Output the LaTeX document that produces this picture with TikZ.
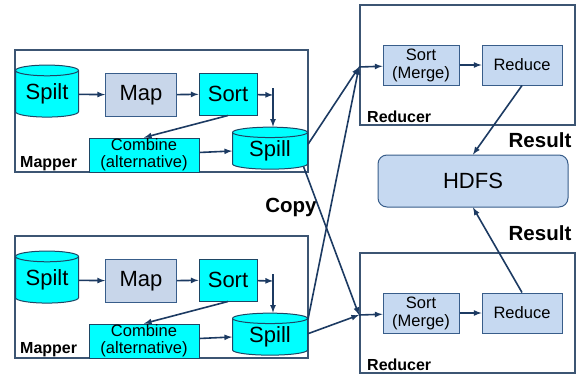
\documentclass[tikz,border=0pt]{standalone}
\usepackage{fontspec}
\setmainfont{Liberation Sans}
\usetikzlibrary{shapes.geometric}
\definecolor{cyanfill}{RGB}{0,255,255}
\definecolor{cyanline}{RGB}{30,70,100}
\definecolor{mapfill}{RGB}{200,214,234}
\definecolor{redfill}{RGB}{198,217,241}
\definecolor{boxline}{RGB}{56,93,138}
\definecolor{framecol}{RGB}{60,85,115}
\definecolor{linkcol}{RGB}{28,58,98}
\tikzset{
  cyl/.style={cylinder,shape border rotate=90,aspect=.25,draw=cyanline,fill=cyanfill,line width=1pt,inner sep=0pt,font=\fontsize{22}{24}\selectfont},
  cyanbox/.style={draw=cyanline,fill=cyanfill,line width=1pt,inner sep=0pt,align=center},
  bluebox/.style={draw=boxline,line width=1pt,inner sep=0pt,align=center},
  frame/.style={draw=framecol,line width=1.1pt},
  link/.style={->,draw=linkcol,line width=1.6pt},
  lbl/.style={font=\fontsize{16}{18}\selectfont\bfseries,anchor=west,inner sep=0pt},
  res/.style={font=\fontsize{20.5}{22}\selectfont\bfseries,inner sep=0pt}
}
\begin{document}
\begin{tikzpicture}[>=latex,x=1pt,y=-1pt]
    \useasboundingbox (0,0) rectangle (576,375);
    % mappers
    \foreach \n/\s in {A/0,B/186}{
        \draw[frame](15,50+\s) rectangle (308,172+\s);
        \node[cyl,minimum width=63pt,minimum height=52pt](spilt\n) at (47,94+\s){Spilt};
        \node[bluebox,fill=mapfill,minimum width=71pt,minimum height=43pt,font=\fontsize{22}{24}\selectfont](map\n) at (141,95+\s){Map};
        \node[cyanbox,minimum width=58pt,minimum height=42pt,font=\fontsize{22}{24}\selectfont](sort\n) at (228,94+\s){Sort};
        \node[cyl,minimum width=75pt,minimum height=42pt](spill\n) at (270,151+\s){Spill};
        \node[cyanbox,minimum width=110pt,minimum height=34pt,font=\fontsize{16.5}{17}\selectfont](comb\n) at (144,155+\s){Combine\\(alternative)};
        \node[lbl](mlbl\n) at (20,164+\s){Mapper};
        \coordinate(j\n) at (273,95+\s);
        \coordinate(k\n) at (273,88+\s);
        \draw[link](spilt\n)--(map\n);
        \draw[link](map\n)--(sort\n);
        \draw[link](sort\n)--(j\n);
        \draw[link](k\n)--(k\n|-spill\n.north);
        \draw[link](sort\n.south)--(comb\n.north);
        \draw[link](comb\n)--(spill\n.west);
    }
    % reducers
    \foreach \n/\s in {A/0,B/248}{
        \draw[frame](360,5+\s) rectangle (575,125+\s);
        \node[bluebox,fill=redfill,minimum width=76pt,minimum height=40pt,font=\fontsize{16.5}{18}\selectfont](merge\n) at (421,65+\s){Sort\\(Merge)};
        \node[bluebox,fill=redfill,minimum width=80pt,minimum height=40pt,font=\fontsize{16.5}{18}\selectfont](red\n) at (522,65+\s){Reduce};
        \node[lbl](rlbl\n) at (367,117+\s){Reducer};
        \coordinate(r\n) at (359,67+\s);
        \draw[link](r\n)--(merge\n);
        \draw[link](merge\n)--(red\n);
    }
    \node[bluebox,fill=redfill,rounded corners=9pt,minimum width=190pt,minimum height=52pt,font=\fontsize{22}{24}\selectfont](hdfs) at (473,181){HDFS};
    \draw[link](redA.south)--(hdfs.north);
    \draw[link](redB.north)--(hdfs.south);
    \node[res](resA) at (540,140){Result};
    \node[res](resB) at (540,233){Result};
    \node[res](copy) at (291,207){Copy};
    % copy phase
    \draw[link](spillA.10)--(rA);
    \draw[link](spillA.-25)--(rB);
    \draw[link](spillB.25)--(rA);
    \draw[link](spillB.5)--(rB);
\end{tikzpicture}
\end{document}
